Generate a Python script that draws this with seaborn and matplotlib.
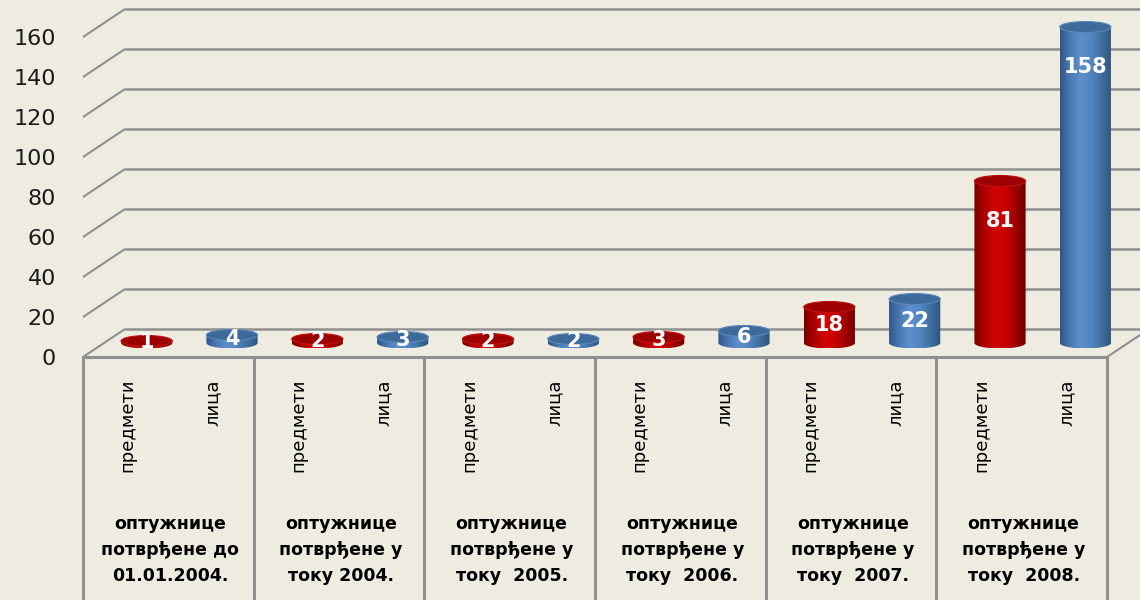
import numpy as np
import pandas as pd
import matplotlib
matplotlib.use("Agg")
import matplotlib.pyplot as plt
import seaborn as sns
from matplotlib.colors import LinearSegmentedColormap
from matplotlib.patches import Ellipse, PathPatch
from matplotlib.path import Path
from matplotlib.transforms import offset_copy, blended_transform_factory

# ---------------------------------------------------------------------------
# data
# ---------------------------------------------------------------------------
groups = [
    "оптужнице\nпотврђене до\n01.01.2004.",
    "оптужнице\nпотврђене у\nтоку 2004.",
    "оптужнице\nпотврђене у\nтоку  2005.",
    "оптужнице\nпотврђене у\nтоку  2006.",
    "оптужнице\nпотврђене у\nтоку  2007.",
    "оптужнице\nпотврђене у\nтоку  2008.",
]
series = ["предмети", "лица"]
predmeti = [1, 2, 2, 3, 18, 81]
lica = [4, 3, 2, 6, 22, 158]
yticks = [0, 20, 40, 60, 80, 100, 120, 140, 160]

df = pd.DataFrame({
    "group": groups * 2,
    "series": [series[0]] * len(groups) + [series[1]] * len(groups),
    "value": predmeti + lica,
})

# ---------------------------------------------------------------------------
# look
# ---------------------------------------------------------------------------
BG = "#EEECE1"
GRID = "#8f8f8f"
W, H = 1140, 600
# pixel geometry of the fake 3D box
FL, FR = 83, 1107        # front plane left / right
BASE = 343               # y pixel of value 0 at mid depth
PXU = 2.0                # pixels per unit
DX, DY = 42, 28          # depth shift front -> back
CAP = 11 / PXU           # cylinder cap height, data units
YLO = -8                 # room below 0 for the bottom arc

body_cmaps = {
    "предмети": LinearSegmentedColormap.from_list(
        "r", ["#7a0000", "#b00000", "#d20404", "#c80000", "#a00000", "#6e0000"]),
    "лица": LinearSegmentedColormap.from_list(
        "b", ["#2f5887", "#4a7bb5", "#5d8fcb", "#5286c2", "#41709f", "#2c5480"]),
}
cap_colors = {"предмети": "#9c0000", "лица": "#3e6a9b"}
cap_edges = {"предмети": "#c21010", "лица": "#5a86bb"}

sns.set_theme(style="white")
plt.rcParams["font.family"] = ["DejaVu Sans"]

fig = plt.figure(figsize=(W / 100, H / 100), dpi=100, facecolor=BG)

# background axes in pixel units for walls / grid
bg = fig.add_axes([0, 0, 1, 1], zorder=0)
bg.set_xlim(0, W)
bg.set_ylim(H, 0)
bg.axis("off")
bg.set_facecolor(BG)

front_y = lambda v: BASE + DY / 2 - PXU * v
for v in yticks:
    yf = front_y(v)
    bg.plot([FL, FL + DX], [yf, yf - DY], color=GRID, lw=1.5,
            solid_capstyle="butt")
    bg.plot([FL + DX, W], [yf - DY, yf - DY], color=GRID, lw=1.8)
    bg.text(56, yf + 2, str(v), ha="right", va="center", fontsize=16,
            color="#1a1a1a")

# floor front edge, right edge and the category box
bg.plot([FL, FR], [front_y(0), front_y(0)], color=GRID, lw=2.2)
bg.plot([FR, FR + DX], [front_y(0), front_y(0) - DY], color=GRID, lw=1.5)
edges = np.linspace(FL, FR, len(groups) + 1)
for xe in edges:
    bg.plot([xe, xe], [front_y(0), H], color=GRID, lw=2.2)

# ---------------------------------------------------------------------------
# data axes: bars through seaborn, then dressed as cylinders
# ---------------------------------------------------------------------------
ax = fig.add_axes([(FL + DX / 2) / W, (H - BASE + YLO * PXU) / H,
                   (FR - FL) / W, (160 - YLO) * PXU / H], zorder=1)
ax.set_facecolor("none")
sns.barplot(data=df, x="group", y="value", hue="series", order=groups,
            hue_order=series, width=1.0, gap=0.4, legend=False,
            palette=["#c00000", "#4f81bd"], ax=ax)

grad = np.linspace(0, 1, 64).reshape(1, -1)
for name, cont in zip(series, ax.containers):
    for rect in cont:
        x0, w, h = rect.get_x(), rect.get_width(), rect.get_height()
        cx = x0 + w / 2
        rect.set_visible(False)
        t = np.linspace(np.pi, 2 * np.pi, 40)
        arc = np.column_stack([cx + w / 2 * np.cos(t), CAP / 2 * np.sin(t)])
        verts = np.vstack([[x0, h], [x0, 0], arc, [x0 + w, 0], [x0 + w, h],
                           [x0, h]])
        clip = PathPatch(Path(verts, closed=True), transform=ax.transData,
                         facecolor="none", edgecolor="none")
        ax.add_patch(clip)
        im = ax.imshow(grad, extent=[x0, x0 + w, -CAP / 2, h], aspect="auto",
                       cmap=body_cmaps[name], interpolation="bicubic",
                       zorder=2, origin="lower")
        im.set_clip_path(clip)
        ax.add_patch(Ellipse((cx, h), w, CAP, facecolor=cap_colors[name],
                             edgecolor=cap_edges[name], lw=0.8, zorder=3,
                             clip_on=False))
        v = int(round(h))
        ax.text(cx, h - min(20, h / 2), str(v), ha="center", va="center",
                color="white", fontsize=15, fontweight="bold", zorder=4,
                clip_on=False)

ax.set_xlim(-0.5, len(groups) - 0.5)
ax.set_ylim(YLO, 160)
ax.axis("off")

# category labels, shifted back to the front plane
lab_tr = offset_copy(blended_transform_factory(ax.transData, bg.transData),
                     fig=fig, x=-DX / 2 + 2, y=0, units="dots")
for name, cont in zip(series, ax.containers):
    for rect in cont:
        cx = rect.get_x() + rect.get_width() / 2
        ax.text(cx, 379, name, rotation=90, ha="center", va="top",
                fontsize=13, color="black", transform=lab_tr, clip_on=False)
for i, g in enumerate(groups):
    ax.text(i, 550, g, ha="center", va="center", fontsize=12.5,
            fontweight="bold", color="black", linespacing=1.55,
            transform=lab_tr, clip_on=False)

fig.savefig("out.png", dpi=100, facecolor=BG)
